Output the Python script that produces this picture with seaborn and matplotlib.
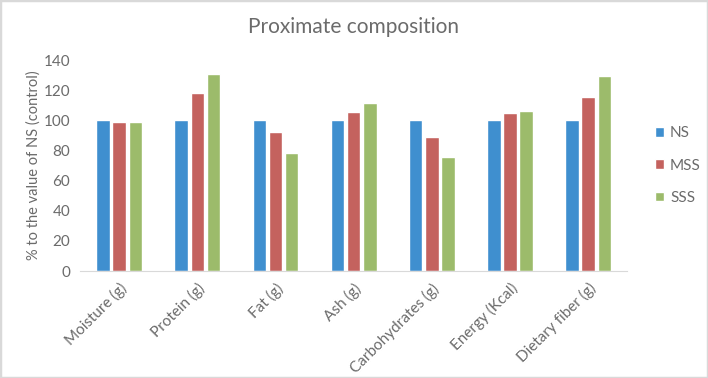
import matplotlib
matplotlib.use("Agg")
import matplotlib.pyplot as plt
import pandas as pd
import seaborn as sns
from matplotlib.patches import Rectangle

categories = ["Moisture (g)", "Protein (g)", "Fat (g)", "Ash (g)",
              "Carbohydrates (g)", "Energy (Kcal)", "Dietary fiber (g)"]
groups = ["NS", "MSS", "SSS"]
ns_values = [100, 100, 100, 100, 100, 100, 100]
mss_values = [99, 118, 92, 105.5, 88.7, 104.6, 115.8]
sss_values = [99, 131, 78.5, 111.7, 75.9, 106.2, 129.4]
colors = ["#3F8FCF", "#C4625E", "#9CBB6B"]

df = pd.DataFrame({
    "Component": categories * 3,
    "Group": [g for g in groups for _ in categories],
    "Value": ns_values + mss_values + sss_values,
})

sns.set_style("white")
plt.rcParams["font.family"] = ["Lato", "DejaVu Sans"]
grey = "#6b6b6b"

fig = plt.figure(figsize=(7.08, 3.78), dpi=100)
ax = fig.add_axes([0.113, 0.283, 0.773, 0.558])

sns.barplot(data=df, x="Component", y="Value", hue="Group", order=categories,
            hue_order=groups, palette=colors, width=0.62, gap=0.17,
            saturation=1, ax=ax)

ax.set_ylim(0, 140)
ax.set_xlim(-0.5, len(categories) - 0.5)
ax.set_yticks(range(0, 141, 20))
ax.tick_params(axis="both", length=0, colors=grey, labelsize=11)
ax.tick_params(axis="y", pad=7)
ax.tick_params(axis="x", pad=7)
for lbl in ax.get_xticklabels():
    lbl.set_rotation(45)
    lbl.set_ha("right")
    lbl.set_rotation_mode("anchor")
ax.set_xlabel("")
ax.set_ylabel("% to the value of NS (control)", color=grey, fontsize=10.5, labelpad=2)

for side in ["top", "right", "left"]:
    ax.spines[side].set_visible(False)
ax.spines["bottom"].set_color("#d9d9d9")

leg = ax.legend(loc="center left", bbox_to_anchor=(1.025, 0.5), frameon=False,
                handlelength=0.6, handleheight=0.6, handletextpad=0.4,
                labelspacing=1.2, fontsize=11)
for t in leg.get_texts():
    t.set_color(grey)

fig.suptitle("Proximate composition", x=0.5, y=0.955, fontsize=15, color=grey)
fig.patches.append(Rectangle((0, 0), 1, 1, transform=fig.transFigure,
                             fill=False, edgecolor="#d9d9d9", linewidth=2.5))

fig.savefig("out.png", dpi=100)
